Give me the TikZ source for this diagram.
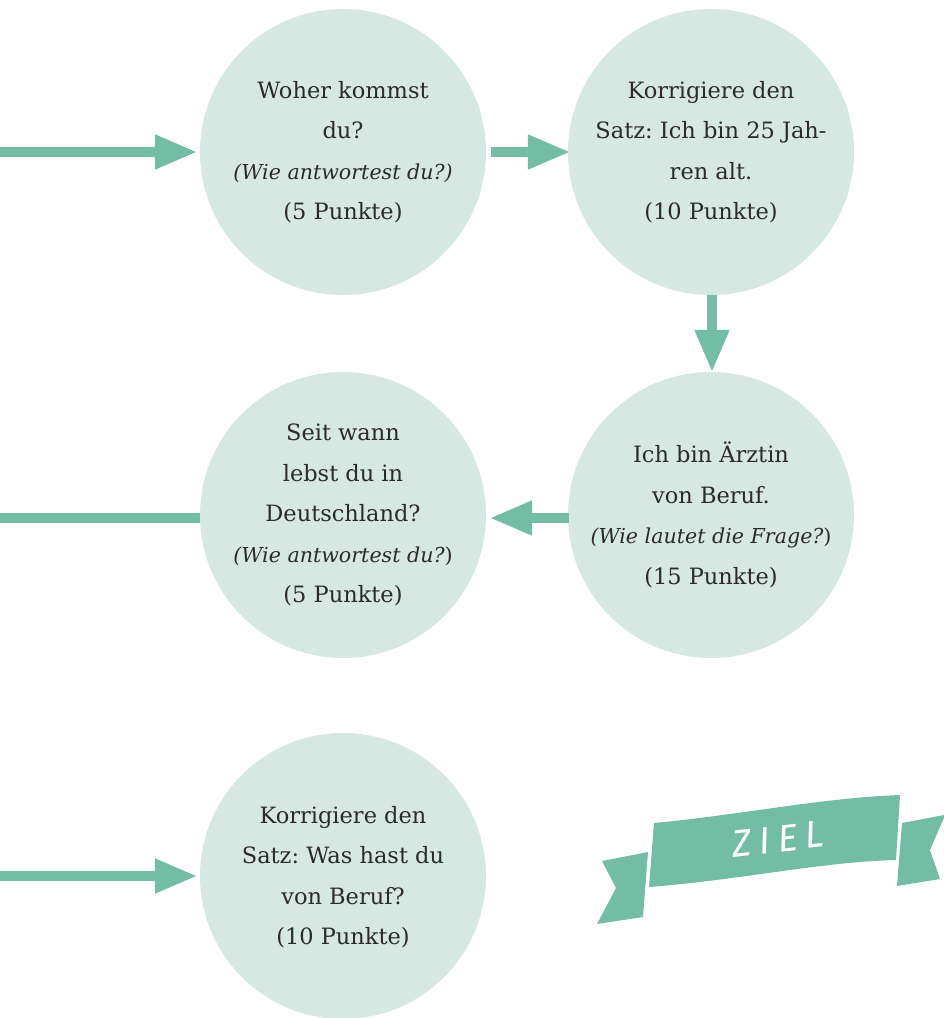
\documentclass[tikz,border=0pt]{standalone}
\usepackage{fontspec}
\setmainfont{DejaVu Serif}
\newfontfamily\zielfont[LetterSpace=20]{Fira Sans}
\usetikzlibrary{arrows.meta}
\frenchspacing
\newcommand{\qit}[1]{{\fontsize{20.6}{40.5}\selectfont\itshape #1}}
\definecolor{circfill}{HTML}{D6E8E2}
\definecolor{arrgreen}{HTML}{72BDA4}
\definecolor{txt}{HTML}{2B2B2B}
\tikzset{
  bubble/.style={circle, fill=circfill, minimum size=286pt, inner sep=0pt},
  bubbletext/.style={align=center, text=txt, font=\fontsize{22.5}{40.5}\selectfont\frenchspacing, inner sep=0pt},
  flow/.style={draw=arrgreen, line width=10.5pt, -{Triangle[length=43pt,width=32pt]}},
  flowline/.style={draw=arrgreen, line width=10.5pt},
  ribbon/.style={fill=arrgreen, draw=none}
}
\begin{document}
\begin{tikzpicture}[x=1pt,y=-1pt]
\useasboundingbox (0,0) rectangle (944,1018);
% circles
\node[bubble] (c1) at (343,152) {};
\node[bubble] (c2) at (711,152) {};
\node[bubble] (c3) at (711,515) {};
\node[bubble] (c4) at (343,515) {};
\node[bubble] (c5) at (343,876) {};
% texts
\node[bubbletext] (t1) at (c1.center) {Woher kommst\\du?\\\qit{(Wie antwortest du?)}\\(5 Punkte)};
\node[bubbletext] (t2) at (c2.center) {Korrigiere den\\Satz: Ich bin 25 Jah-\\ren alt.\\(10 Punkte)};
\node[bubbletext] (t3) at (c3.center) {Ich bin Ärztin\\von Beruf.\\\qit{(Wie lautet die Frage?}{\fontsize{20.6}{40.5}\selectfont)}\\(15 Punkte)};
\node[bubbletext] (t4) at (c4.center) {Seit wann\\lebst du in\\Deutschland?\\\qit{(Wie antwortest du?}{\fontsize{20.6}{40.5}\selectfont)}\\(5 Punkte)};
\node[bubbletext] (t5) at ([yshift=-1pt]c5.center) {Korrigiere den\\Satz: Was hast du\\von Beruf?\\(10 Punkte)};
% connectors
\coordinate (in1) at (0,152);
\coordinate (out4) at (0,518);
\coordinate (in5) at (0,876);
\draw[flow] (in1) -- ([xshift=-2pt]c1.west);
\draw[flow] ([xshift=5pt]c1.east) -- ([xshift=3pt]c2.west);
\draw[flow] ([xshift=1pt]c2.south) -- ([xshift=1pt,yshift=-1pt]c3.north);
\draw[flow] ([xshift=1pt,yshift=-3pt]c3.west) -- ([xshift=3pt,yshift=-3pt]c4.east);
\draw[flowline] (out4) -- ([yshift=-3pt]c4.west);
\draw[flow] (in5) -- ([xshift=-2pt]c5.west);
% ZIEL banner
\fill[ribbon] (602,861) -- (648,852) -- (643,917) -- (597,924) -- (616,888) -- cycle;
\fill[ribbon] (902,823) -- (944,815) -- (944,818) -- (930,850) -- (940,879) -- (897,886) -- cycle;
\fill[ribbon] (654,823) .. controls (740,815) and (820,798) .. (900,795) -- (896,860) .. controls (820,862) and (740,880) .. (649,887) -- cycle;
\node[text=white, font=\zielfont\fontsize{38}{38}\selectfont\itshape, rotate=6.5, inner sep=0pt] (ziel) at (778,839) {ZIEL};
\end{tikzpicture}
\end{document}
